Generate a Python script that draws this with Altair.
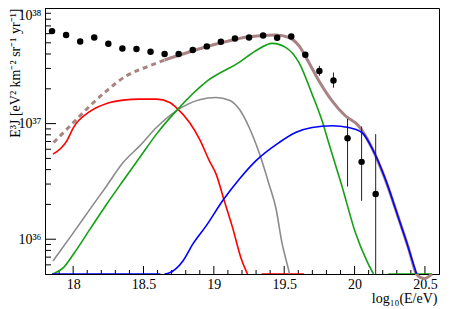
import math
import altair as alt
import pandas as pd

# ---------------- data (log10 of E^3 J) ----------------
DOT_X = [17.85, 17.95, 18.05, 18.15, 18.25, 18.35, 18.45, 18.55, 18.65, 18.75,
         18.85, 18.95, 19.05, 19.15, 19.25, 19.35, 19.45, 19.55, 19.65, 19.75,
         19.85, 19.95, 20.05, 20.15]
DOT_LOGY = [37.800, 37.766, 37.711, 37.745, 37.691, 37.650, 37.645, 37.622, 37.602, 37.602,
            37.636, 37.668, 37.708, 37.737, 37.745, 37.763, 37.743, 37.754, 37.596, 37.455,
            37.373, 36.874, 36.669, 36.392]

ERR_X = [19.75, 19.85, 19.95, 20.05, 20.15]
ERR_LO = [37.414, 37.310, 36.455, 36.332, 35.699]
ERR_HI = [37.500, 37.442, 37.040, 36.975, 36.909]

RED_X = [17.857, 17.955, 18.002, 18.12, 18.238, 18.355, 18.473, 18.592, 18.686, 18.733,
         18.827, 18.898, 18.968, 19.016, 19.074, 19.133, 19.192, 19.239]
RED_LOGY = [36.736, 36.851, 36.966, 37.105, 37.174, 37.203, 37.212, 37.212, 37.183, 37.139,
            37.009, 36.866, 36.678, 36.563, 36.332, 36.100, 35.840, 35.699]
RED_FLOOR_X = [19.34, 19.64]

GRAY_X = [17.857, 18.002, 18.12, 18.238, 18.355, 18.473, 18.592, 18.733, 18.898, 19.016,
          19.11, 19.18, 19.251, 19.322, 19.392, 19.44, 19.486, 19.521, 19.538]
GRAY_LOGY = [35.812, 36.057, 36.260, 36.461, 36.663, 36.807, 36.966, 37.110, 37.206, 37.226,
             37.203, 37.126, 36.966, 36.747, 36.476, 36.274, 35.957, 35.784, 35.699]

GREEN_X = [17.857, 17.931, 18.002, 18.12, 18.238, 18.355, 18.473, 18.592, 18.733, 18.956,
           19.18, 19.298, 19.415, 19.51, 19.604, 19.698, 19.769, 19.816, 19.91, 20.005,
           20.087, 20.134]
GREEN_LOGY = [35.699, 35.754, 35.870, 36.087, 36.303, 36.505, 36.706, 36.909, 37.110, 37.371,
              37.529, 37.630, 37.694, 37.659, 37.529, 37.255, 37.024, 36.834, 36.461, 36.060,
              35.812, 35.699]
GREEN_FLOOR_X = [20.24, 20.55]

BLUE_X = [18.65, 18.686, 18.78, 18.85, 18.945, 19.062, 19.18, 19.298, 19.463, 19.581,
          19.698, 19.84, 19.958, 20.052, 20.122, 20.217, 20.311, 20.382, 20.44]
BLUE_LOGY = [35.699, 35.710, 35.812, 35.957, 36.115, 36.332, 36.519, 36.678, 36.836, 36.923,
             36.966, 36.981, 36.966, 36.923, 36.793, 36.526, 36.187, 35.927, 35.699]
BLUE_FLOOR_X = [17.85, 18.62]

TOTAL_DASH_X = [17.861, 18.002, 18.12, 18.238, 18.379, 18.544, 18.65]
TOTAL_DASH_LOGY = [36.836, 37.009, 37.154, 37.284, 37.414, 37.500, 37.550]
TOTAL_X = [18.65, 18.78, 19.016, 19.251, 19.44, 19.534, 19.604, 19.675, 19.746, 19.84,
           19.934, 20.028, 20.122, 20.217, 20.311, 20.382, 20.44, 20.47, 20.50, 20.53, 20.55]
TOTAL_LOGY = [37.550, 37.602, 37.688, 37.752, 37.766, 37.745, 37.674, 37.529, 37.371, 37.197,
              37.068, 36.981, 36.793, 36.520, 36.187, 35.927, 35.699, 35.668, 35.660, 35.680, 35.699]

FLOOR = 35.699
X_MAJOR = [18, 18.5, 19, 19.5, 20, 20.5]
X_MINOR = [17.9, 18.1, 18.2, 18.3, 18.4, 18.6, 18.7, 18.8, 18.9, 19.1, 19.2, 19.3, 19.4,
           19.6, 19.7, 19.8, 19.9, 20.1, 20.2, 20.3, 20.4]
Y_MAJOR = [36, 37, 38]
Y_MINOR = [35 + math.log10(k) for k in [6, 7, 8, 9]] + \
          [36 + math.log10(k) for k in range(2, 10)] + \
          [37 + math.log10(k) for k in range(2, 10)]

# ---------------- tables ----------------
rows = []
def add(series, seg, xs, ys):
    for i, (x, y) in enumerate(zip(xs, ys)):
        rows.append(dict(series=series, seg=seg, x=x, ly=y, o=i))

add("red", "red1", RED_X, RED_LOGY)
add("red", "red2", RED_FLOOR_X, [FLOOR] * len(RED_FLOOR_X))
add("gray", "gray1", GRAY_X, GRAY_LOGY)
add("green", "green1", GREEN_X, GREEN_LOGY)
add("green", "green2", GREEN_FLOOR_X, [FLOOR] * len(GREEN_FLOOR_X))
add("blue", "blue1", BLUE_X, BLUE_LOGY)
add("blue", "blue2", BLUE_FLOOR_X, [FLOOR] * len(BLUE_FLOOR_X))
comp = pd.DataFrame(rows)

tot = pd.DataFrame({"x": TOTAL_X, "ly": TOTAL_LOGY, "o": range(len(TOTAL_X))})
totd = pd.DataFrame({"x": TOTAL_DASH_X, "ly": TOTAL_DASH_LOGY, "o": range(len(TOTAL_DASH_X))})
dots = pd.DataFrame({"x": DOT_X, "ly": DOT_LOGY})
errs = pd.DataFrame({"x": ERR_X, "lo": ERR_LO, "hi": ERR_HI})

W, H = 394, 266
FONT = "Liberation Serif"
xs = alt.Scale(domain=[17.8, 20.6], nice=False, zero=False)
ys = alt.Scale(domain=[FLOOR, 38.0], nice=False, zero=False)

ax_x_lab = alt.Axis(orient="bottom", values=X_MAJOR, tickSize=0, domain=True, domainColor="black",
                    grid=False, labelFont=FONT, labelFontSize=14, labelColor="black",
                    labelPadding=3, labelFlush=False, labelExpr="'' + datum.value",
                    title="log₁₀(E/eV)", titleFont=FONT, titleFontSize=14, titleFontWeight="normal",
                    titleColor="black", titleAnchor="end", titleAlign="right",
                    titleBaseline="alphabetic", titleX=W - 2, titleY=28)
ax_y_lab = alt.Axis(orient="left", values=Y_MAJOR, tickSize=0, domain=True, domainColor="black",
                    grid=False, labelFont=FONT, labelFontSize=14, labelColor="black",
                    labelPadding=4, labelFlush=False,
                    labelBaseline={"condition": {"test": "datum.value == 38", "value": "top"},
                                   "value": "middle"},
                    labelExpr="datum.value == 36 ? '10³⁶' : (datum.value == 37 ? '10³⁷' : '10³⁸')",
                    title="E³J [eV² km⁻² sr⁻¹ yr⁻¹]", titleFont=FONT, titleFontSize=14,
                    titleFontWeight="normal", titleColor="black", titleAngle=270,
                    titleAlign="right", titleBaseline="top", titleX=-37, titleY=0)

def xtick(values, length):
    df = pd.DataFrame({"v": values})
    return alt.Chart(df).mark_rule(color="black", strokeWidth=1).encode(
        x=alt.X("v:Q", scale=xs, axis=None),
        y=alt.value(H), y2=alt.value(H - length))

def ytick(values, length):
    df = pd.DataFrame({"v": values})
    return alt.Chart(df).mark_rule(color="black", strokeWidth=1).encode(
        y=alt.Y("v:Q", scale=ys, axis=None),
        x=alt.value(0), x2=alt.value(length))

total_dash = alt.Chart(totd).mark_line(color="#a98383", strokeWidth=3, strokeDash=[5, 4],
                                       interpolate="monotone", clip=True).encode(
    x=alt.X("x:Q", scale=xs, axis=None),
    y=alt.Y("ly:Q", scale=ys, axis=None),
    order="o:Q")

total = alt.Chart(tot).mark_line(color="#a98383", strokeWidth=3, interpolate="monotone").encode(
    x=alt.X("x:Q", scale=xs, axis=None),
    y=alt.Y("ly:Q", scale=ys, axis=None),
    order="o:Q")

components = alt.Chart(comp).mark_line(strokeWidth=1.6, interpolate="monotone", clip=True).encode(
    x=alt.X("x:Q", scale=xs, axis=None),
    y=alt.Y("ly:Q", scale=ys, axis=None),
    color=alt.Color("series:N", legend=None,
                    scale=alt.Scale(domain=["red", "gray", "green", "blue"],
                                    range=["#ff0000", "#8c8c8c", "#14a014", "#0000ff"])),
    detail="seg:N",
    order="o:Q")

errbars = alt.Chart(errs).mark_rule(color="#222222", strokeWidth=1, clip=True).encode(
    x=alt.X("x:Q", scale=xs, axis=None),
    y=alt.Y("lo:Q", scale=ys, axis=None),
    y2="hi:Q")

points = alt.Chart(dots).mark_circle(color="black", opacity=1, size=42).encode(
    x=alt.X("x:Q", scale=xs, axis=ax_x_lab),
    y=alt.Y("ly:Q", scale=ys, axis=ax_y_lab))

chart = alt.layer(
    xtick(X_MAJOR, 8), xtick(X_MINOR, 4), ytick(Y_MAJOR, 11), ytick(Y_MINOR, 6),
    total_dash, total, components, errbars, points
).resolve_axis(
    x="independent", y="independent"
).properties(
    width=W, height=H,
    autosize=alt.AutoSizeParams(type="none"),
    padding={"left": 37, "top": 0, "right": 10, "bottom": 32},
    background="white",
).configure_view(stroke="black", strokeWidth=1)

chart.save("out.html", embed_options={"renderer": "svg", "actions": False})
